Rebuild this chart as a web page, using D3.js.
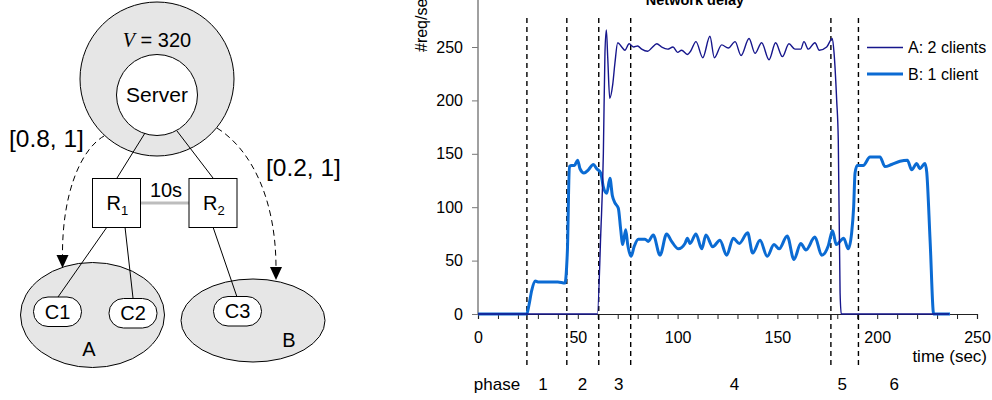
<!DOCTYPE html>
<html>
<head>
<meta charset="utf-8">
<script src="https://cdn.jsdelivr.net/npm/d3@7"></script>
<style>
  body { margin: 0; background: #fff; }
  svg text { font-family: "Liberation Sans", Arial, sans-serif; fill: #000; }
</style>
</head>
<body>
<svg id="fig" width="992" height="400"></svg>
<script>
// series A: 2 clients (time in sec, req/sec)
const timeA = [0, 59.8, 61.5, 62.8, 63.6, 64.3, 65, 66, 67.5, 68.6, 70, 72, 73.6, 75.7, 78, 80, 82, 85, 87,
  89.6, 92, 95, 97.7, 100, 102, 104.9, 106.5, 109.2, 112.6, 116.2, 118.4, 122.1, 125.4, 128.8, 131.8, 135.8,
  138.8, 142.1, 145.8, 149.1, 152.5, 155.8, 158.8, 161.7, 163.3, 165.5, 168.8, 171, 174.7, 177.5, 178.4,
  179.7, 180.5, 181.4, 182, 236];
const valueA = [0, 0, 75, 150, 244, 266, 240, 202, 215, 235, 254, 250, 247, 253, 250, 251, 248, 246, 249,
  253, 250, 248, 250, 245, 247, 243, 246, 255, 240, 260, 240, 252, 249, 255, 242, 258,
  244, 254, 238, 254, 241, 253, 248, 248, 255, 248, 254, 247, 250, 258, 244,
  200, 163, 20, 0, 0];

// series B: 1 client
const timeB = [0, 24.4, 25.5, 26.9, 28.6, 30, 35, 40, 43.6, 44.4, 44.8, 45.8, 46.9, 48.3, 49.9, 51.1, 53.1,
  55.3, 57.8, 59.5, 61.5, 62.8, 64.5, 66.1, 67.3, 68.6, 70.3, 71.5, 72.5, 74, 75, 76.7, 78.2, 80.3, 83.7,
  85.3, 87.8, 91.2, 94.5, 97, 100.4, 103.7, 104.9, 106.2, 109.2, 112.1, 114.2, 117.6, 121.2, 124.6, 127.9,
  130.9, 135.1, 137.6, 141.3, 144.9, 148.3, 150.9, 154.9, 158.3, 161.7, 164.3, 168.8, 172.2, 175.5, 177.6,
  179.5, 183.2, 185.5, 187.2, 188.2, 188.9, 190, 193, 196.4, 199.7, 201.4, 203.9, 207.2, 211.4, 215.1,
  217.3, 219.8, 221.4, 223.9, 224.8, 226.5, 228.3, 236.5];
const valueB = [0, 0, 8, 22, 31, 30, 30, 30, 29, 44, 60, 138, 139, 139, 144, 136, 132,
  135, 140, 136, 132, 119, 113, 127, 111, 104, 99, 79, 65, 79, 65, 54, 63, 70, 70,
  68, 74, 55, 75, 68, 61, 66, 71, 66, 75, 61, 74, 63, 69, 55, 71,
  66, 76, 57, 69, 54, 65, 61, 73, 51, 66, 60, 72, 55, 64, 78,
  65, 71, 61, 76, 100, 132, 139, 139, 147, 147, 147, 138, 140, 143, 144,
  135, 141, 136, 141, 133, 69, 0, 0];

const seriesNames = ["A: 2 clients", "B: 1 client"];
const phaseBounds = [24.5, 44.5, 60.5, 76.5, 176.8, 190.6];
const phaseNames = ["1", "2", "3", "4", "5", "6"];
const phaseLabelTimes = [32.5, 52.3, 70.5, 128.5, 182.5, 208.5];
const yTicks = [0, 50, 100, 150, 200, 250];
const xLabelTicks = [0, 50, 100, 150, 200, 250];

const svg = d3.select("#fig");
const font = "'Liberation Sans', Arial, sans-serif";

// ---------- left: topology diagram ----------
const diag = svg.append("g");

diag.append("circle").attr("cx", 157).attr("cy", 79).attr("r", 77)
  .attr("fill", "#e6e6e6").attr("stroke", "#000").attr("stroke-width", 1);
diag.append("circle").attr("cx", 157).attr("cy", 95).attr("r", 40.5)
  .attr("fill", "#fff").attr("stroke", "#000").attr("stroke-width", 1);

let vt = diag.append("text").attr("x", 157).attr("y", 47).attr("text-anchor", "middle")
  .style("font-size", "20px");
vt.append("tspan").style("font-family", "'Liberation Serif', 'Times New Roman', serif")
  .style("font-style", "italic").text("V");
vt.append("tspan").text(" = 320");

diag.append("text").attr("x", 157).attr("y", 102).attr("text-anchor", "middle")
  .style("font-size", "21px").text("Server");

// links server -> routers, routers -> clients
const links = [[145, 133, 117, 178], [177, 131, 213, 178],
  [107, 227, 58, 297], [125, 227, 133, 298], [213, 227, 237, 297]];

// gray 10s link
diag.append("line").attr("x1", 141).attr("y1", 203).attr("x2", 189).attr("y2", 203)
  .attr("stroke", "#bdbdbd").attr("stroke-width", 3);
diag.append("text").attr("x", 166).attr("y", 197).attr("text-anchor", "middle")
  .style("font-size", "20px").text("10s");

// client groups
diag.append("ellipse").attr("cx", 92.5).attr("cy", 315).attr("rx", 72).attr("ry", 52.5)
  .attr("fill", "#e6e6e6").attr("stroke", "#000");
diag.append("ellipse").attr("cx", 253).attr("cy", 320.5).attr("rx", 72).attr("ry", 41.5)
  .attr("fill", "#e6e6e6").attr("stroke", "#000");

diag.selectAll("line.link").data(links).join("line").attr("class", "link")
  .attr("x1", d => d[0]).attr("y1", d => d[1]).attr("x2", d => d[2]).attr("y2", d => d[3])
  .attr("stroke", "#000").attr("stroke-width", 1);

// routers
[{x: 92.5, n: "1"}, {x: 189, n: "2"}].forEach(r => {
  diag.append("rect").attr("x", r.x).attr("y", 178.5).attr("width", 48).attr("height", 49)
    .attr("fill", "#fff").attr("stroke", "#000").attr("stroke-width", 1);
  let t = diag.append("text").attr("x", r.x + 14).attr("y", 210).style("font-size", "20px");
  t.append("tspan").text("R");
  t.append("tspan").attr("dy", 5).style("font-size", "13px").text(r.n);
});

const clients = [{x: 33.5, y: 297, n: "C1"}, {x: 109, y: 298.5, n: "C2"}, {x: 213.5, y: 296.5, n: "C3"}];
clients.forEach(c => {
  diag.append("rect").attr("x", c.x).attr("y", c.y).attr("width", 48).attr("height", 29.5)
    .attr("rx", 14.5).attr("ry", 14.5)
    .attr("fill", "#fff").attr("stroke", "#000");
  diag.append("text").attr("x", c.x + 24).attr("y", c.y + 21.5).attr("text-anchor", "middle")
    .style("font-size", "20px").text(c.n);
});

diag.append("text").attr("x", 89).attr("y", 356).attr("text-anchor", "middle")
  .style("font-size", "20px").text("A");
diag.append("text").attr("x", 289).attr("y", 347).attr("text-anchor", "middle")
  .style("font-size", "20px").text("B");

// dashed arrows with weights
diag.append("path").attr("d", "M104,136 C80,150 62,195 62.5,256")
  .attr("fill", "none").attr("stroke", "#000").attr("stroke-dasharray", "6,4");
diag.append("path").attr("d", "M56.5,255 L68.5,255 L62.5,268 Z").attr("fill", "#000");
diag.append("path").attr("d", "M217,128 C252,150 276,200 276,268")
  .attr("fill", "none").attr("stroke", "#000").attr("stroke-dasharray", "6,4");
diag.append("path").attr("d", "M270,267 L282,267 L276,280 Z").attr("fill", "#000");

diag.append("text").attr("x", 9).attr("y", 147).style("font-size", "24.5px").text("[0.8, 1]");
diag.append("text").attr("x", 266).attr("y", 176).style("font-size", "24.5px").text("[0.2, 1]");

// ---------- right: time series chart ----------
const x = d3.scaleLinear().domain([0, 250]).range([478, 977]);
const y = d3.scaleLinear().domain([0, 250]).range([314, 47]);

const chart = svg.append("g");

// x axis
const xAxis = chart.append("g").attr("transform", `translate(0,${y(0)})`)
  .call(d3.axisBottom(x).tickValues(d3.range(0, 251, 10)).tickSize(5).tickPadding(13)
    .tickFormat(d => xLabelTicks.includes(d) ? d : ""));
xAxis.select(".domain").attr("stroke", "#222").attr("stroke-width", 1.2);
xAxis.selectAll(".tick line").attr("stroke", "#222");
xAxis.selectAll("text").style("font-size", "16px").style("font-family", font).attr("fill", "#000");

// y axis
const yAxis = chart.append("g").attr("transform", `translate(${x(0)},0)`)
  .call(d3.axisLeft(y).tickValues(yTicks).tickSize(6).tickPadding(9));
yAxis.select(".domain").remove();
yAxis.selectAll(".tick line").attr("stroke", "#777");
yAxis.selectAll("text").style("font-size", "16px").style("font-family", font).attr("fill", "#000");
chart.append("line").attr("x1", x(0)).attr("x2", x(0)).attr("y1", 0).attr("y2", y(0))
  .attr("stroke", "#808080").attr("stroke-width", 1.5);

chart.append("text").attr("transform", `translate(427,52) rotate(-90)`)
  .style("font-size", "16px").text("#req/sec");

chart.append("text").attr("x", 695).attr("y", 5).attr("text-anchor", "middle")
  .style("font-size", "14.5px").style("font-weight", "bold").text("Network delay");

chart.append("text").attr("x", 987).attr("y", 362).attr("text-anchor", "end")
  .style("font-size", "17px").text("time (sec)");

// phase separators
chart.selectAll("line.phase").data(phaseBounds).join("line").attr("class", "phase")
  .attr("x1", d => x(d)).attr("x2", d => x(d)).attr("y1", 18).attr("y2", 368)
  .attr("stroke", "#000").attr("stroke-width", 1.4).attr("stroke-dasharray", "5,4");

chart.append("text").attr("x", 497).attr("y", 390).attr("text-anchor", "middle")
  .style("font-size", "17px").text("phase");
chart.selectAll("text.phase-label").data(phaseNames).join("text").attr("class", "phase-label")
  .attr("x", (d, i) => x(phaseLabelTimes[i])).attr("y", 390).attr("text-anchor", "middle")
  .style("font-size", "17px").text(d => d);

// series lines
const dataA = timeA.map((t, i) => ({t: t, v: valueA[i]}));
const dataB = timeB.map((t, i) => ({t: t, v: valueB[i]}));
const line = d3.line().x(d => x(d.t)).y(d => y(d.v)).curve(d3.curveMonotoneX);

const colA = "#16168c";
const colB = "#0b6bd3";

chart.append("path").datum(dataB).attr("d", line)
  .attr("fill", "none").attr("stroke", colB).attr("stroke-width", 3).attr("stroke-linejoin", "round");
chart.append("path").datum(dataA).attr("d", line)
  .attr("fill", "none").attr("stroke", colA).attr("stroke-width", 1.4).attr("stroke-linejoin", "round");

// legend
const legend = chart.append("g");
[colA, colB].forEach((c, i) => {
  legend.append("line").attr("x1", 867).attr("x2", 903)
    .attr("y1", 47.5 + i * 26.5).attr("y2", 47.5 + i * 26.5)
    .attr("stroke", c).attr("stroke-width", i === 0 ? 1.4 : 3);
  legend.append("text").attr("x", 908).attr("y", 53 + i * 26.5)
    .style("font-size", "16px").text(seriesNames[i]);
});
</script>
</body>
</html>
